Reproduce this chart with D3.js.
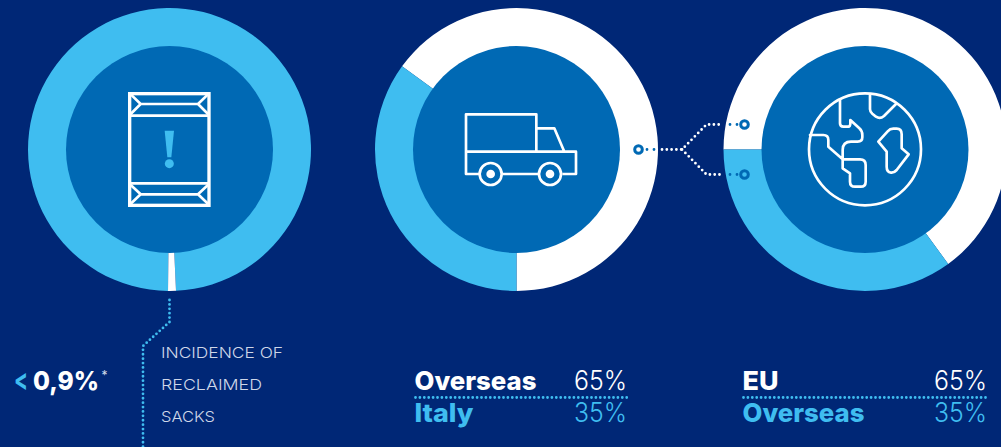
<!DOCTYPE html>
<html>
<head>
<meta charset="utf-8">
<script src="https://cdn.jsdelivr.net/npm/d3@7"></script>
<style>
  html, body { margin: 0; padding: 0; background: #002776; overflow: hidden; }
  svg { display: block; }
  text { font-family: Inter, "Open Sans", sans-serif; }
</style>
</head>
<body>
<svg id="chart" width="1001" height="447"></svg>
<script>
// Share of reclaimed sacks (percent)
const reclaimedLabels = ["Intact", "Reclaimed"];
const reclaimedValues = [99.1, 0.9];
// Destination split of all shipments (percent)
const shippingLabels = ["Overseas", "Italy"];
const shippingValues = [65, 35];
// Destination split of foreign shipments (percent)
const foreignLabels = ["EU", "Overseas"];
const foreignValues = [65, 35];

const navy = "#002776", mid = "#0069b4", sky = "#3fbdf0", white = "#ffffff";
const svg = d3.select("#chart");

svg.append("rect").attr("width", 1001).attr("height", 447).attr("fill", navy);

const outerR = 141.5, innerR = 103.5;
const arc = d3.arc().innerRadius(innerR - 1).outerRadius(outerR);
const deg = d => d * Math.PI / 180;

// One ring: the pie starts at startDeg and runs clockwise through the values
function ring(cx, cy, values, colours, startDeg) {
  const pie = d3.pie().sort(null).startAngle(deg(startDeg)).endAngle(deg(startDeg + 360));
  const g = svg.append("g").attr("transform", `translate(${cx},${cy})`);
  g.selectAll("path").data(pie(values)).join("path")
    .attr("d", arc).attr("fill", (d, i) => colours[i]);
  g.append("circle").attr("r", innerR).attr("fill", mid);
}

ring(169.5, 149.5, reclaimedValues, [sky, white], 180.6);
ring(516.5, 149.5, shippingValues, [white, sky], -54);
ring(865, 149.5, foreignValues, [white, sky], -90);

// Line icons, drawn on a 3x grid to keep the coordinates whole
function icon(x, y) {
  return svg.append("g").attr("transform", `translate(${x},${y}) scale(${1 / 3})`)
    .attr("fill", "none").attr("stroke", white)
    .attr("stroke-linejoin", "round");
}

// Sack
const sack = icon(100, 70);
sack.append("rect").attr("x", 89).attr("y", 71).attr("width", 238).attr("height", 335).attr("stroke-width", 10).attr("stroke-linejoin", "miter");
sack.append("path").attr("stroke-width", 8)
  .attr("d", "M89 137H327M89 340H327");
sack.append("path").attr("stroke-width", 8)
  .attr("d", "M89 70L122 102L89 135M327 70L294 102L327 135M122 102H294" +
             "M89 342L122 373L89 404M327 342L294 373L327 404M122 373H294");
sack.append("path").attr("fill", sky).attr("stroke", "none")
  .attr("d", "M194 182H222L214 262H202Z");
sack.append("circle").attr("cx", 208).attr("cy", 281).attr("r", 13.5).attr("fill", sky).attr("stroke", "none");

// Truck
const truck = icon(450, 100);
truck.append("path").attr("stroke-width", 8)
  .attr("d", "M48 155V43H259V155M259 85H313L343 155M48 155H378V222H337M48 155V222H88M158 222H265");
[122, 300].forEach(cx => {
  truck.append("circle").attr("cx", cx).attr("cy", 222).attr("r", 33).attr("stroke-width", 8);
  truck.append("circle").attr("cx", cx).attr("cy", 222).attr("r", 13).attr("fill", white).attr("stroke", "none");
});

// Globe
const globe = icon(795, 80);
globe.append("circle").attr("cx", 210).attr("cy", 208).attr("r", 168).attr("stroke-width", 8);
globe.append("path").attr("stroke-width", 8).attr("stroke-linecap", "round")
  .attr("d", "M135 58V130Q135 140 145 140H160Q166 140 166 130V120L193 145Q202 153 202 165V172Q202 185 188 185H168Q143 185 143 210V265L165 280V305Q165 320 180 320H197Q212 320 212 305V255Q212 238 195 238H143" +
             "M45 165H85Q100 165 100 180V200L143 238" +
             "M225 45V88Q225 95 232 101L243 110Q255 118 267 108L303 72" +
             "M250 185L278 154Q285 146 295 146H305Q320 146 320 163V205L341 223L305 270Q297 279 288 278Q275 276 275 260V215Z");

// Dotted connectors
function dots(d, colour, gap) {
  svg.append("path").attr("d", d).attr("fill", "none")
    .attr("stroke", colour).attr("stroke-width", 2.8)
    .attr("stroke-linecap", "round").attr("stroke-dasharray", `0 ${gap || 4.4}`);
}
function node(x, y, fill) {
  svg.append("circle").attr("cx", x).attr("cy", y).attr("r", 3.8)
    .attr("fill", fill).attr("stroke", mid).attr("stroke-width", 3);
}

dots("M169.5 300V322L143 346V447", sky);

dots("M647 149.5H655", mid, 7);
dots("M662 149.5H682L706.5 124.5H722", white, 4.8);
dots("M682 149.5L706.5 174.5H722", white, 4.8);
dots("M730 124.5H738", mid, 7);
dots("M730 174.5H738", mid, 7);
node(638.5, 149.5, white);
node(744.5, 124.5, white);
node(744.5, 174.5, sky);

// Callout text
function label(x, y, str, size, weight, colour, width, anchor) {
  const t = svg.append("text").attr("x", x).attr("y", y).text(str)
    .attr("font-size", size).attr("font-weight", weight).attr("fill", colour)
    .attr("text-anchor", anchor || "start");
  if (width) t.attr("textLength", width).attr("lengthAdjust", "spacingAndGlyphs");
  return t;
}

label(14, 390, "<", 30, 700, sky, 14);
label(33, 390, "0,9%", 26, 800, white, 66);
label(101.5, 380, "*", 13, 400, "#d5dcec", 6);

label(161, 358, "INCIDENCE OF", 15, 300, "#cfd7e8", 122);
label(161, 390, "RECLAIMED", 15, 300, "#cfd7e8", 101);
label(161, 422, "SACKS", 15, 300, "#cfd7e8", 54);

// Legends under the two split rings
function legend(x0, x1, names, values, nameWidths) {
  const rows = [[389.5, white], [421.5, sky]];
  names.forEach((name, i) => {
    label(x0, rows[i][0], name, 26, 800, rows[i][1], nameWidths[i]);
    label(x1, rows[i][0], values[i] + "%", 27, 300, rows[i][1], 53, "end");
  });
  dots(`M${x0 + 1} 397.5H${x1 + 1}`, sky);
}
legend(414.5, 627, shippingLabels, shippingValues, [122, 59]);
legend(742.5, 987, foreignLabels, foreignValues, [36, 122]);
</script>
</body>
</html>
